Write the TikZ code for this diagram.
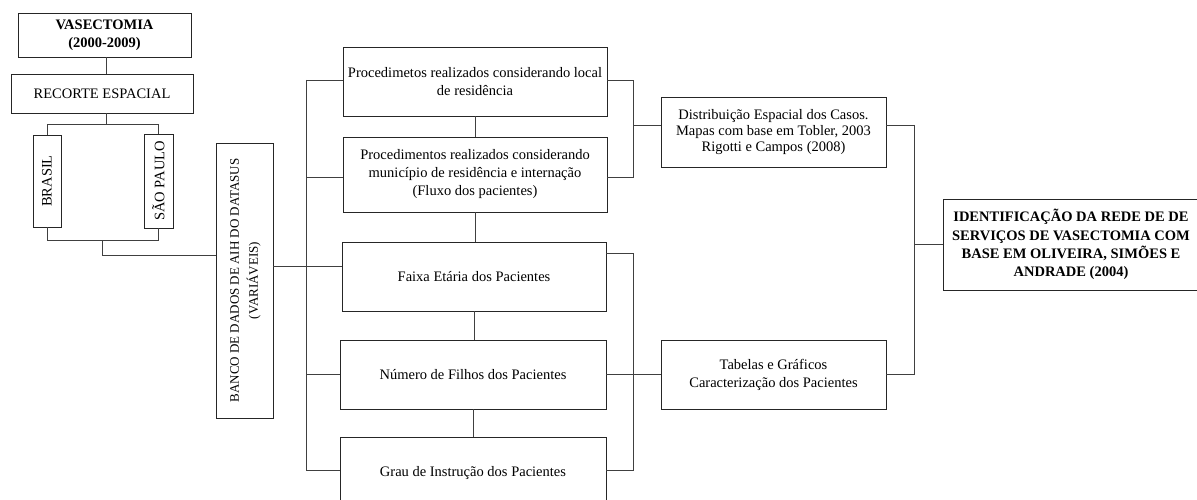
\documentclass[tikz,border=0pt]{standalone}
\usepackage{fontspec}
\setmainfont{Liberation Serif}
\begin{document}
\begin{tikzpicture}[x=1pt,y=-1pt,
  box/.style={draw=black!85, line width=0.8pt, inner sep=0pt, align=center, font=\fontsize{14.5}{18}\selectfont},
  conn/.style={draw=black!75, line width=0.7pt}]
\useasboundingbox (0,0) rectangle (1197,500);
\clip (0,0) rectangle (1197,500);
% left column
\node[box, minimum width=173pt, minimum height=44pt, font=\bfseries\fontsize{14.5}{18}\selectfont] (vas) at (104.5,35) {VASECTOMIA\\(2000-2009)};
\node[box, minimum width=182pt, minimum height=39pt] (rec) at (102,93.5) {RECORTE ESPACIAL};
\node[box, minimum width=28pt, minimum height=92pt] (bra) at (47,181) {\rotatebox{90}{BRASIL}};
\node[box, minimum width=29pt, minimum height=94pt] (sp) at (158.5,181) {\rotatebox{90}{SÃO PAULO}};
\node[box, minimum width=57pt, minimum height=275pt, font=\fontsize{13}{19}\selectfont] (banco) at (244.5,280.5)
  {\rotatebox{90}{\begin{tabular}{@{}c@{}}BANCO DE DADOS DE AIH DO DATASUS\\(VARIÁVEIS)\end{tabular}}};
% middle column
\node[box, minimum width=264pt, minimum height=69pt] (p1) at (475,81.5) {Procedimetos realizados considerando local\\de residência};
\node[box, minimum width=264pt, minimum height=75pt] (p2) at (475,174.5) {Procedimentos realizados considerando\\município de residência e internação\\(Fluxo dos pacientes)};
\node[box, minimum width=264pt, minimum height=69pt] (p3) at (474,276.5) {Faixa Etária dos Pacientes};
\node[box, minimum width=266pt, minimum height=69pt] (p4) at (473,374.5) {Número de Filhos dos Pacientes};
\node[box, minimum width=266pt, minimum height=72pt] (p5) at (473,473) {Grau de Instrução dos Pacientes};
% right column
\node[box, minimum width=225pt, minimum height=70pt, font=\fontsize{14.5}{16}\selectfont] (dist) at (773.5,132) {Distribuição Espacial dos Casos.\\Mapas com base em Tobler, 2003\\Rigotti e Campos (2008)};
\node[box, minimum width=225pt, minimum height=69pt] (tab) at (773.5,374.5) {Tabelas e Gráficos\\Caracterização dos Pacientes};
\node[box, minimum width=256pt, minimum height=91pt, font=\bfseries\fontsize{14.5}{18.3}\selectfont] (fin) at (1071,244.5)
  {IDENTIFICAÇÃO DA REDE DE DE\\SERVIÇOS DE VASECTOMIA COM\\BASE EM OLIVEIRA, SIMÕES E\\ANDRADE (2004)};
% left connectors
\draw[conn] ([xshift=2pt]vas.south) -- ([xshift=2pt]vas.south |- rec.north);
\draw[conn] ([xshift=4pt]rec.south) -- ++(0,11) coordinate (r0);
\draw[conn] (bra.north) |- (r0) -| (sp.north);
\draw[conn] (bra.south) -- ++(0,13) coordinate (b1) -| (sp.south);
\coordinate (m1) at (102,240);
\draw[conn] (m1) |- ([yshift=25.5pt]banco.west);
% bus to middle boxes
\coordinate (bt) at (306,80);
\coordinate (bb) at (306,470);
\draw[conn] (bt) -- (bb);
\draw[conn] ([yshift=14.5pt]banco.east) -- ([yshift=10.5pt]p3.west);
\draw[conn] (bt) -- (bt -| p1.west);
\draw[conn] ([yshift=-2.5pt]p2.west) -- ([yshift=-2.5pt]p2.west -| bt);
\draw[conn] (p4.west) -- (p4.west -| bt);
\draw[conn] ([yshift=3pt]p5.west) -- ([yshift=3pt]p5.west -| bt);
% vertical chain
\draw[conn] (p1.south) -- (p1.south |- p2.north);
\draw[conn] (p2.south) -- (p2.south |- p3.north);
\draw[conn] (p3.south) -- (p3.south |- p4.north);
\draw[conn] (p4.south) -- (p4.south |- p5.north);
% right brackets
\coordinate (dw) at ([yshift=7pt]dist.west);
\coordinate (de) at ([yshift=7pt]dist.east);
\draw[conn] ([yshift=1.5pt]p1.east) -- ++(26,0) coordinate (r1) |- ([yshift=-2.5pt]p2.east);
\draw[conn] (r1 |- dw) -- (dw);
\draw[conn] ([yshift=23.5pt]p3.east) -- ++(27,0) coordinate (r2) |- ([yshift=3pt]p5.east);
\draw[conn] (p4.east) -- (tab.west);
% right bus
\coordinate (rb1) at (914,125);
\coordinate (rb2) at (914,375);
\draw[conn] (rb1) -- (rb2);
\draw[conn] (de) -- (rb1);
\draw[conn] (tab.east) -- (tab.east -| rb1);
\draw[conn] (fin.west -| rb1) -- (fin.west);
\end{tikzpicture}
\end{document}
